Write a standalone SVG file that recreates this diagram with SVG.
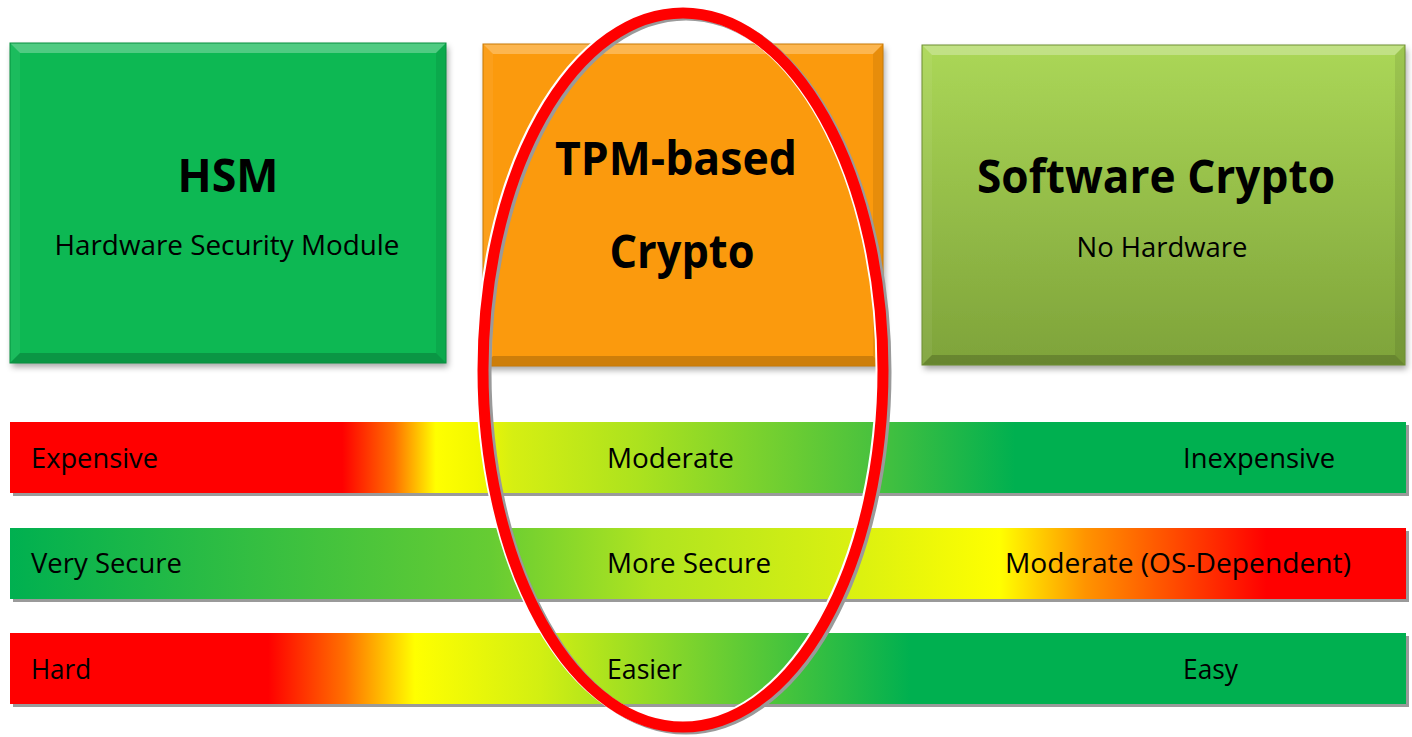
<svg xmlns="http://www.w3.org/2000/svg" width="1412" height="737" viewBox="0 0 1412 737">
  <defs>
    <style>
      .title { font-family: "Open Sans", "Liberation Sans", sans-serif; font-weight: 700; font-size: 47px; fill: #000; text-anchor: middle; }
      .sub { font-family: "Open Sans", "Liberation Sans", sans-serif; font-size: 27px; fill: #000; text-anchor: middle; }
      .lbl { font-family: "Open Sans", "Liberation Sans", sans-serif; font-size: 27px; fill: #000; }
      .hi { fill: #fff; fill-opacity: 0.28; }
      .lo { fill: #000; fill-opacity: 0.18; }
      .side-l { fill: #fff; fill-opacity: 0.06; }
      .side-r { fill: #000; fill-opacity: 0.08; }
      .barshadow { fill: #9a9a9a; }
    </style>
    <filter id="boxShadow" x="-5%" y="-5%" width="112%" height="115%">
      <feDropShadow dx="2" dy="4" stdDeviation="3" flood-color="#000" flood-opacity="0.35"/>
    </filter>
    <linearGradient id="softGrad" x1="0" y1="0" x2="0" y2="1">
      <stop offset="0" stop-color="#abd757"/>
      <stop offset="1" stop-color="#7ea33a"/>
    </linearGradient>
    <!-- cost: red to green -->
    <linearGradient id="costGrad" x1="0" y1="0" x2="1" y2="0">
      <stop offset="0" stop-color="#ff0000"/>
      <stop offset="0.238" stop-color="#ff0000"/>
      <stop offset="0.275" stop-color="#ff7000"/>
      <stop offset="0.305" stop-color="#ffff00"/>
      <stop offset="0.335" stop-color="#f2f800"/>
      <stop offset="0.36" stop-color="#d6ef12"/>
      <stop offset="0.45" stop-color="#ace21e"/>
      <stop offset="0.62" stop-color="#48c13e"/>
      <stop offset="0.72" stop-color="#00b050"/>
      <stop offset="1" stop-color="#00b050"/>
    </linearGradient>
    <!-- security: green to red -->
    <linearGradient id="secGrad" x1="0" y1="0" x2="1" y2="0">
      <stop offset="0" stop-color="#00b050"/>
      <stop offset="0.344" stop-color="#66cc33"/>
      <stop offset="0.46" stop-color="#b0e420"/>
      <stop offset="0.61" stop-color="#dcf110"/>
      <stop offset="0.709" stop-color="#ffff00"/>
      <stop offset="0.77" stop-color="#ff9400"/>
      <stop offset="0.9" stop-color="#ff0000"/>
      <stop offset="1" stop-color="#ff0000"/>
    </linearGradient>
    <!-- ease: red to green -->
    <linearGradient id="easeGrad" x1="0" y1="0" x2="1" y2="0">
      <stop offset="0" stop-color="#ff0000"/>
      <stop offset="0.185" stop-color="#ff0000"/>
      <stop offset="0.24" stop-color="#ff7000"/>
      <stop offset="0.29" stop-color="#ffff00"/>
      <stop offset="0.38" stop-color="#d2ef12"/>
      <stop offset="0.5" stop-color="#72d030"/>
      <stop offset="0.645" stop-color="#00b050"/>
      <stop offset="1" stop-color="#00b050"/>
    </linearGradient>
  </defs>

  <rect width="1412" height="737" fill="#fff"/>

  <!-- HSM box -->
  <g id="hsm">
    <rect x="10" y="43" width="436" height="320" fill="#07b852" filter="url(#boxShadow)"/>
    <polygon class="hi" points="10,43 446,43 436,53 20,53"/>
    <polygon class="side-l" points="10,43 20,53 20,353 10,363"/>
    <polygon class="side-r" points="446,43 436,53 436,353 446,363"/>
    <polygon class="lo" points="10,363 446,363 436,353 20,353"/>
    <rect x="10" y="43" width="436" height="320" fill="none" stroke="#06903f" stroke-width="1"/>
    <text class="title" x="228" y="192" textLength="101" lengthAdjust="spacingAndGlyphs">HSM</text>
    <text class="sub" x="227" y="255" textLength="345" lengthAdjust="spacingAndGlyphs">Hardware Security Module</text>
  </g>

  <!-- TPM box -->
  <g id="tpm">
    <rect x="483" y="44" width="400" height="322" fill="#fb9a08" filter="url(#boxShadow)"/>
    <polygon class="hi" points="483,44 883,44 873,54 493,54"/>
    <polygon class="side-l" points="483,44 493,54 493,356 483,366"/>
    <polygon class="side-r" points="883,44 873,54 873,356 883,366"/>
    <polygon class="lo" points="483,366 883,366 873,356 493,356"/>
    <rect x="483" y="44" width="400" height="322" fill="none" stroke="#c97a05" stroke-width="1"/>
    <text class="title" x="676" y="175" textLength="242" lengthAdjust="spacingAndGlyphs">TPM-based</text>
    <text class="title" x="682" y="268" textLength="145" lengthAdjust="spacingAndGlyphs">Crypto</text>
  </g>

  <!-- Software crypto box -->
  <g id="software">
    <rect x="922" y="45" width="483" height="320" fill="url(#softGrad)" filter="url(#boxShadow)"/>
    <polygon class="hi" points="922,45 1405,45 1395,55 932,55"/>
    <polygon class="side-l" points="922,45 932,55 932,355 922,365"/>
    <polygon class="side-r" points="1405,45 1395,55 1395,355 1405,365"/>
    <polygon class="lo" points="922,365 1405,365 1395,355 932,355"/>
    <rect x="922" y="45" width="483" height="320" fill="none" stroke="#6f8f33" stroke-width="1"/>
    <text class="title" x="1156" y="193" textLength="358" lengthAdjust="spacingAndGlyphs">Software Crypto</text>
    <text class="sub" x="1162" y="257" textLength="171" lengthAdjust="spacingAndGlyphs">No Hardware</text>
  </g>

  <!-- Cost bar -->
  <g id="bar-cost">
    <rect class="barshadow" x="13" y="425" width="1396" height="71"/>
    <rect x="10" y="422" width="1396" height="71" fill="url(#costGrad)"/>
    <text class="lbl" x="31" y="468" textLength="127" lengthAdjust="spacingAndGlyphs">Expensive</text>
    <text class="lbl" x="607" y="468" textLength="127" lengthAdjust="spacingAndGlyphs">Moderate</text>
    <text class="lbl" x="1183" y="468" textLength="152" lengthAdjust="spacingAndGlyphs">Inexpensive</text>
  </g>

  <!-- Security bar -->
  <g id="bar-security">
    <rect class="barshadow" x="13" y="531" width="1396" height="71"/>
    <rect x="10" y="528" width="1396" height="71" fill="url(#secGrad)"/>
    <text class="lbl" x="31" y="573" textLength="151" lengthAdjust="spacingAndGlyphs">Very Secure</text>
    <text class="lbl" x="607" y="573" textLength="164" lengthAdjust="spacingAndGlyphs">More Secure</text>
    <text class="lbl" x="1005" y="573" textLength="346" lengthAdjust="spacingAndGlyphs">Moderate (OS-Dependent)</text>
  </g>

  <!-- Ease-of-use bar -->
  <g id="bar-ease">
    <rect class="barshadow" x="13" y="636" width="1396" height="71"/>
    <rect x="10" y="633" width="1396" height="71" fill="url(#easeGrad)"/>
    <text class="lbl" x="31" y="679" textLength="60" lengthAdjust="spacingAndGlyphs">Hard</text>
    <text class="lbl" x="607" y="679" textLength="75" lengthAdjust="spacingAndGlyphs">Easier</text>
    <text class="lbl" x="1183" y="679" textLength="55" lengthAdjust="spacingAndGlyphs">Easy</text>
  </g>

  <!-- Highlight ring around the TPM column -->
  <g id="highlight">
    <ellipse cx="686" cy="372" rx="200" ry="357" fill="none" stroke="#9a9a9a" stroke-width="11"/>
    <ellipse cx="681" cy="369" rx="200" ry="357" fill="none" stroke="#fff" stroke-width="11"/>
    <ellipse cx="683" cy="370" rx="200" ry="357" fill="none" stroke="#ff0000" stroke-width="11"/>
  </g>
</svg>
